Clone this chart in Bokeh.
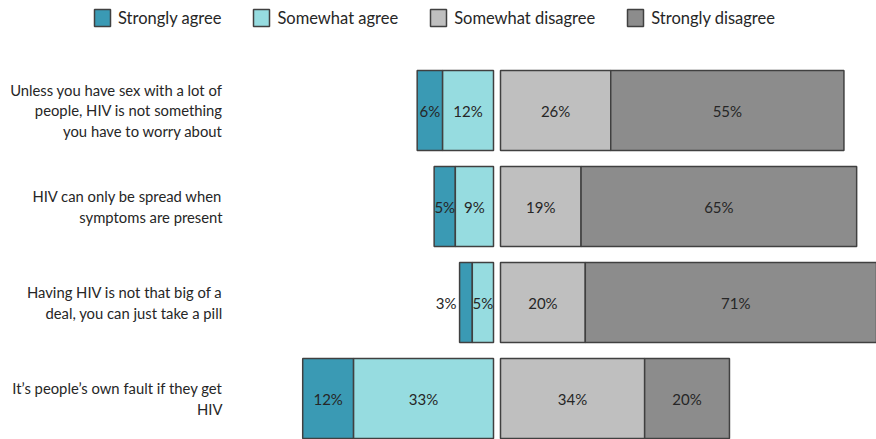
from bokeh.plotting import figure
from bokeh.models import Range1d, ColumnDataSource, Legend, LegendItem
from bokeh.core.properties import value
from bokeh.embed import file_html
from bokeh.resources import INLINE

# ---------------- data ----------------
statements = [
    "Unless you have sex with a lot of\npeople, HIV is not something\nyou have to worry about",
    "HIV can only be spread when\nsymptoms are present",
    "Having HIV is not that big of a\ndeal, you can just take a pill",
    "It\u2019s people\u2019s own fault if they get\nHIV",
]
strongly_agree = [6, 5, 3, 12]
somewhat_agree = [12, 9, 5, 33]
somewhat_disagree = [26, 19, 20, 34]
strongly_disagree = [55, 65, 71, 20]
series_names = ["Strongly agree", "Somewhat agree", "Somewhat disagree", "Strongly disagree"]
colors = ["#3A9AB4", "#96DCE0", "#BFBFBF", "#8C8C8C"]

# ---------------- layout constants ----------------
W, H = 876, 439
PX = 4.24            # pixels per percent
CENTER_PX = 493      # pixel where agree bars end
GAP = 7 / PX         # gap between agree and disagree sides
ROW0_PX = 110        # pixel center of first row
PITCH = 96           # pixels between rows
BAR_H = 80 / PITCH
LABEL_RIGHT_PX = 222
FONT = "Lato"
TXT = "#262626"

p = figure(width=W, height=H, output_backend="svg", toolbar_location=None,
           min_border=0, x_axis_location=None, y_axis_location=None,
           x_range=Range1d(-CENTER_PX / PX, (W - CENTER_PX) / PX),
           y_range=Range1d(-(H - ROW0_PX) / PITCH, ROW0_PX / PITCH))
p.grid.visible = False
p.outline_line_color = None
p.background_fill_color = "white"
p.border_fill_color = "white"

n = len(statements)
ys = [-i for i in range(n)]

# segment extents
sa_l = [-(a + b) for a, b in zip(strongly_agree, somewhat_agree)]
sa_r = [-b for b in somewhat_agree]
wa_l = [-b for b in somewhat_agree]
wa_r = [0] * n
sd_l = [GAP] * n
sd_r = [GAP + c for c in somewhat_disagree]
st_l = sd_r
st_r = [GAP + c + d for c, d in zip(somewhat_disagree, strongly_disagree)]
segments = [(sa_l, sa_r, strongly_agree), (wa_l, wa_r, somewhat_agree),
            (sd_l, sd_r, somewhat_disagree), (st_l, st_r, strongly_disagree)]

renderers = []
lab_x, lab_y, lab_t, lab_align = [], [], [], []
for (ls, rs, vals), col in zip(segments, colors):
    r = p.hbar(y=ys, left=ls, right=rs, height=BAR_H, fill_color=col,
               line_color="#404040", line_width=1.5)
    renderers.append(r)
    for l, rr, v, y in zip(ls, rs, vals, ys):
        if v < 4:
            lab_x.append(l - 3 / PX)
            lab_align.append("right")
        else:
            lab_x.append((l + rr) / 2)
            lab_align.append("center")
        lab_y.append(y)
        lab_t.append(f"{v}%")

src = ColumnDataSource(dict(x=lab_x, y=lab_y, t=lab_t, a=lab_align))
p.text(x="x", y="y", text="t", text_align="a", source=src, text_baseline="middle",
       text_font=value(FONT), text_font_size="15px", text_color=TXT)

# category labels
p.text(x=[(LABEL_RIGHT_PX - CENTER_PX) / PX] * n, y=ys, text=statements,
       text_align="right", text_baseline="middle", text_line_height=1.15,
       text_font=value(FONT), text_font_size="14.8px", text_color=TXT)

legend = Legend(items=[LegendItem(label=nm, renderers=[r]) for nm, r in zip(series_names, renderers)],
                orientation="horizontal", location=(92, H - 28),
                glyph_width=20, glyph_height=21, label_standoff=6, spacing=30,
                padding=0, margin=0, border_line_alpha=0, background_fill_alpha=0,
                label_text_font=FONT, label_text_font_size="16.5px", label_text_color=TXT,
                label_height=21)
p.add_layout(legend)

open("out.html", "w").write(file_html(p, INLINE))
